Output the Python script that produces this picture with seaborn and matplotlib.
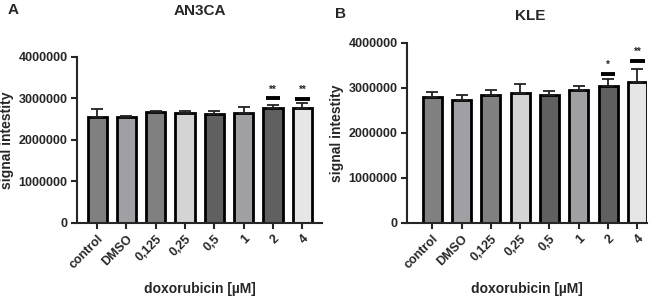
import numpy as np
import seaborn as sns
import matplotlib.pyplot as plt

# data
doses = ["control", "DMSO", "0,125", "0,25", "0,5", "1", "2", "4"]
an3ca_mean = [2550000, 2550000, 2680000, 2650000, 2630000, 2650000, 2760000, 2780000]
an3ca_sd = [200000, 30000, 30000, 40000, 70000, 150000, 80000, 110000]
kle_mean = [2800000, 2740000, 2850000, 2880000, 2850000, 2950000, 3050000, 3140000]
kle_sd = [100000, 110000, 100000, 200000, 80000, 90000, 140000, 280000]
an3ca_sig = {"2": ("**", 3000000), "4": ("**", 2990000)}
kle_sig = {"2": ("*", 3320000), "4": ("**", 3600000)}

bar_colors = ["#808080", "#a0a0a4", "#808080", "#d4d4d4", "#606060", "#a0a0a4", "#606060", "#e6e6e6"]

sns.set_style("ticks")
plt.rcParams["font.family"] = ["Liberation Sans", "DejaVu Sans"]
plt.rcParams["font.weight"] = "bold"

fig = plt.figure(figsize=(6.59, 3.0), dpi=100)
ax_a = fig.add_axes([0.117, 0.257, 0.372, 0.553])
ax_b = fig.add_axes([0.618, 0.257, 0.364, 0.600])


def draw_panel(ax, means, sds, sig, xlim):
    sns.barplot(x=doses, y=means, hue=doses, palette=bar_colors, legend=False,
                width=0.65, edgecolor="black", linewidth=2.0, ax=ax)
    ax.errorbar(np.arange(len(doses)), means, yerr=[np.zeros(len(sds)), sds],
                fmt="none", ecolor="#222222", elinewidth=1.3, capsize=4, capthick=1.3)
    for lab, (stars, y) in sig.items():
        i = doses.index(lab)
        ax.hlines(y, i - 0.25, i + 0.25, color="black", linewidth=2.8)
        ax.text(i, y + 90000, stars, ha="center", va="bottom", fontsize=7)
    ax.set_ylim(0, 4000000)
    ax.set_yticks([0, 1000000, 2000000, 3000000, 4000000])
    ax.set_yticklabels(["0", "1000000", "2000000", "3000000", "4000000"], fontsize=9, fontweight="bold")
    ax.set_xlim(*xlim)
    ax.set_xticks(range(len(doses)))
    ax.set_xticklabels(doses, rotation=45, ha="right", rotation_mode="anchor",
                       fontsize=9, fontweight="bold")
    ax.set_xlabel("doxorubicin [µM]", fontsize=10, fontweight="bold", labelpad=8)
    ax.set_ylabel("signal intestity", fontsize=10, fontweight="bold", labelpad=3)
    ax.tick_params(direction="out", length=4, width=1.5, pad=3)
    for s in ["left", "bottom"]:
        ax.spines[s].set_linewidth(1.5)
    sns.despine(ax=ax)


draw_panel(ax_a, an3ca_mean, an3ca_sd, an3ca_sig, (-0.68, 7.68))
draw_panel(ax_b, kle_mean, kle_sd, kle_sig, (-0.85, 7.33))

fig.text(0.303, 0.963, "AN3CA", fontsize=11, fontweight="bold", ha="center", va="center")
fig.text(0.805, 0.948, "KLE", fontsize=11, fontweight="bold", ha="center", va="center")
fig.text(0.012, 0.965, "A", fontsize=11, fontweight="bold", va="center")
fig.text(0.508, 0.955, "B", fontsize=11, fontweight="bold", va="center")

fig.savefig("out.png", dpi=100)
